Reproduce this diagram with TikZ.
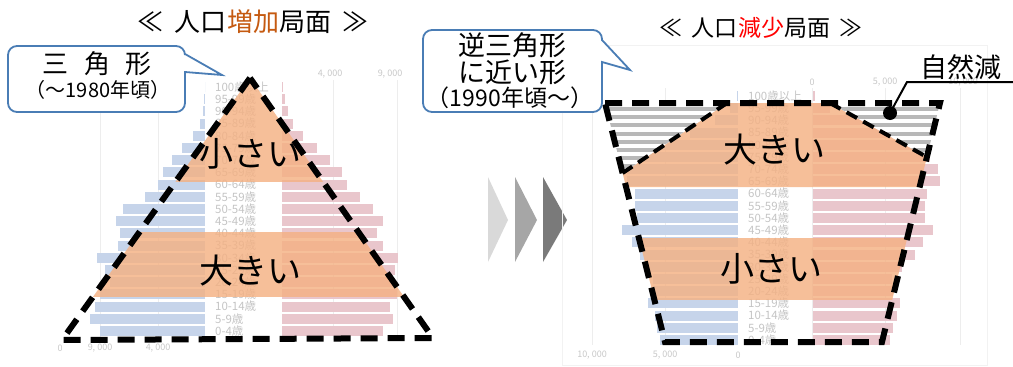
\documentclass[tikz,border=0pt]{standalone}
\usepackage{fontspec}
\setmainfont{Noto Sans CJK JP}
\usetikzlibrary{calc}
\definecolor{barblue}{HTML}{C6D4EA}
\definecolor{barpink}{HTML}{E9C6CC}
\definecolor{bandorange}{HTML}{F4B183}
\definecolor{calloutblue}{HTML}{4A7DB5}
\definecolor{titleorange}{HTML}{C55A11}
\definecolor{stripegray}{HTML}{B8B8B8}
\definecolor{faintgray}{HTML}{C4C4C4}
\begin{document}
\begin{tikzpicture}[x=1pt,y=-1pt,
  dashedge/.style={line width=6pt,dash pattern=on 17pt off 10pt,line join=miter},
  innerdash/.style={line width=4pt,dash pattern=on 12pt off 7pt},
  calloutbox/.style={draw=calloutblue,line width=1.8pt,fill=white},
  agetxt/.style={font=\fontsize{11.5}{11.5}\selectfont,text=faintgray,anchor=west,inner sep=0pt},
  axtxt/.style={font=\fontsize{9}{9}\selectfont,text=black!22,inner sep=0pt},
  bigtxt/.style={font=\fontsize{34}{34}\selectfont,inner sep=0pt},
  headtxt/.style={inner sep=0pt},
  gridline/.style={draw=black!7,line width=1pt}]
\useasboundingbox (0,0) rectangle (1013,367);

% left pyramid (increase)
\coordinate (apex) at (250,78);
\coordinate (tbl) at (62,340);
\coordinate (tbr) at (433,338);
\foreach \gx in {100,158,333,397} \draw[gridline] (\gx,80) -- (\gx,340);
\foreach \i/\l/\r/\age in {0/100/383/0-4歳, 1/90/393/5-9歳, 2/95/390/10-14歳,
    3/100/397/15-19歳, 4/110/392/20-24歳, 5/105/395/25-29歳, 6/97/398/30-34歳,
    7/118/383/35-39歳, 8/120/377/40-44歳, 9/116/383/45-49歳, 10/123/373/50-54歳,
    11/145/360/55-59歳, 12/158/347/60-64歳, 13/163/342/65-69歳, 14/172/330/70-74歳,
    15/182/317/75-79歳, 16/193/303/80-84歳, 17/200/293/85-89歳, 18/203/288/90-94歳,
    19/204/285/95-99歳, 20/205/283/100歳以上}
{
  \pgfmathsetmacro\y{331-12.2*\i}
  \fill[barblue] (\l,\y-5) rectangle (205,\y+5);
  \fill[barpink] (282,\y-5) rectangle (\r,\y+5);
  \node[agetxt] (la\i) at (215,\y) {\age};
}
\node[axtxt] (lax1) at (330,74) {4, 000};
\node[axtxt] (lax2) at (390,74) {9, 000};
\node[axtxt] (lax3) at (60,348) {0};
\node[axtxt] (lax4) at (100,348) {9, 000};
\node[axtxt] (lax5) at (158,348) {4, 000};
\begin{scope}
  \clip (apex) -- (tbl) -- (tbr) -- cycle;
  \fill[bandorange,opacity=.82] (0,70) rectangle (500,182);
  \fill[bandorange,opacity=.82] (0,232) rectangle (500,297);
\end{scope}
\draw[dashedge] (apex) -- (tbl) -- (tbr) -- cycle;
\node[bigtxt] (small1) at (250,154) {小さい};
\node[bigtxt] (large1) at (250,271) {大きい};
\node[headtxt,font=\fontsize{26}{26}\selectfont] (head1) at (253,22)
  {≪\hspace{12pt}人口\textcolor{titleorange}{増加}局面\hspace{12pt}≫};
\draw[calloutbox] [rounded corners=9pt] (185,72) -- (185,112) -- (8,112) -- (8,46)
  -- (185,46) [sharp corners] -- (185,54) -- (222,75) -- cycle;
\node[headtxt,font=\fontsize{26}{26}\selectfont] (shape1) at (97,64)
  {三\hspace{0.6em}角\hspace{0.6em}形};
\node[headtxt,font=\fontsize{20}{20}\selectfont] (era1) at (98,90) {（～1980年頃）};

% arrows
\fill[black!15] (488,177) -- (508,220) -- (488,262) -- cycle;
\fill[black!35] (515,177) -- (537,220) -- (515,262) -- cycle;
\fill[black!52] (543,177) -- (567,220) -- (543,262) -- cycle;

% right pyramid (decrease)
\coordinate (ttl) at (605,103);
\coordinate (ttr) at (940,103);
\coordinate (tbr2) at (882,342);
\coordinate (tbl2) at (665,342);
\coordinate (p1) at (727,103);
\coordinate (p2) at (830,103);
\coordinate (q1) at ($(ttl)!0.293!(tbl2)$);
\coordinate (q2) at ($(ttr)!0.226!(tbr2)$);
\draw[draw=black!5,line width=1pt] (562,45) rectangle (987,365);
\foreach \gx in {592,665,812,885,960} \draw[gridline] (\gx,88) -- (\gx,345);
\foreach \i/\l/\r/\age in {0/660/890/0-4歳, 1/657/893/5-9歳, 2/655/897/10-14歳,
    3/648/900/15-19歳, 4/653/893/20-24歳, 5/653/892/25-29歳, 6/647/902/30-34歳,
    7/640/915/35-39歳, 8/632/923/40-44歳, 9/622/933/45-49歳, 10/637/925/50-54歳,
    11/635/925/55-59歳, 12/635/927/60-64歳, 13/627/940/65-69歳, 14/627/938/70-74歳,
    15/640/930/75-79歳, 16/660/915/80-84歳, 17/690/895/85-89歳, 18/715/865/90-94歳,
    19/730/830/95-99歳, 20/737/815/100歳以上}
{
  \pgfmathsetmacro\y{340-12.2*\i}
  \fill[barblue] (\l,\y-5) rectangle (738,\y+5);
  \fill[barpink] (813,\y-5) rectangle (\r,\y+5);
  \node[agetxt] (ra\i) at (748,\y) {\age};
}
\node[axtxt] (rax1) at (812,82) {0};
\node[axtxt] (rax2) at (885,82) {5, 000};
\node[axtxt] (rax3) at (963,82) {10, 000};
\node[axtxt] (rax4) at (592,355) {10, 000};
\node[axtxt] (rax5) at (665,355) {5, 000};
\node[axtxt] (rax6) at (738,355) {0};
\begin{scope}
  \clip (ttl) -- (ttr) -- (tbr2) -- (tbl2) -- cycle;
  \fill[bandorange,opacity=.82] (p1) -- (p2) -- (q2) -- (1000,157) -- (1000,187)
    -- (500,187) -- (500,173) -- (q1) -- cycle;
  \fill[bandorange,opacity=.82] (500,238) rectangle (1000,300);
\end{scope}
% natural decrease, striped corners
\begin{scope}
  \clip (ttl) -- (p1) -- (q1) -- cycle;
  \fill[white] (590,95) rectangle (950,180);
  \foreach \s in {0,...,8} \fill[stripegray] (590,{107+8.2*\s}) rectangle (950,{111+8.2*\s});
\end{scope}
\begin{scope}
  \clip (p2) -- (ttr) -- (q2) -- cycle;
  \fill[white] (590,95) rectangle (950,180);
  \foreach \s in {0,...,8} \fill[stripegray] (590,{107+8.2*\s}) rectangle (950,{111+8.2*\s});
\end{scope}
\draw[innerdash] (p1) -- (q1);
\draw[innerdash] (p2) -- (q2);
\draw[dashedge] (ttl) -- (ttr) -- (tbr2) -- (tbl2) -- cycle;
\node[bigtxt] (large2) at (774,150) {大きい};
\node[bigtxt] (small2) at (771,269) {小さい};
\node[headtxt,font=\fontsize{23}{23}\selectfont] (head2) at (761,28)
  {≪\hspace{10pt}人口\textcolor{red}{減少}局面\hspace{10pt}≫};

% label with leader
\node[circle,fill=black,inner sep=0pt,minimum size=14pt] (dot) at (890,113) {};
\node[headtxt,font=\fontsize{27}{27}\selectfont] (shizen) at (961,67) {自然減};
\coordinate (bend) at (907,82);
\coordinate (lineend) at (1013,82);
\draw[line width=2pt] (dot.center) -- (bend) -- (lineend);

\draw[calloutbox] [rounded corners=9pt] (602,62) -- (602,112) -- (423,112) -- (423,30)
  -- (602,30) [sharp corners] -- (602,40) -- (630,70) -- cycle;
\node[headtxt,font=\fontsize{27}{27}\selectfont] (inv1) at (512,45) {逆三角形};
\node[headtxt,font=\fontsize{27}{27}\selectfont] (inv2) at (512,72) {に近い形};
\node[headtxt,font=\fontsize{23}{23}\selectfont] (era2) at (510,98) {（1990年頃～）};
\end{tikzpicture}
\end{document}
